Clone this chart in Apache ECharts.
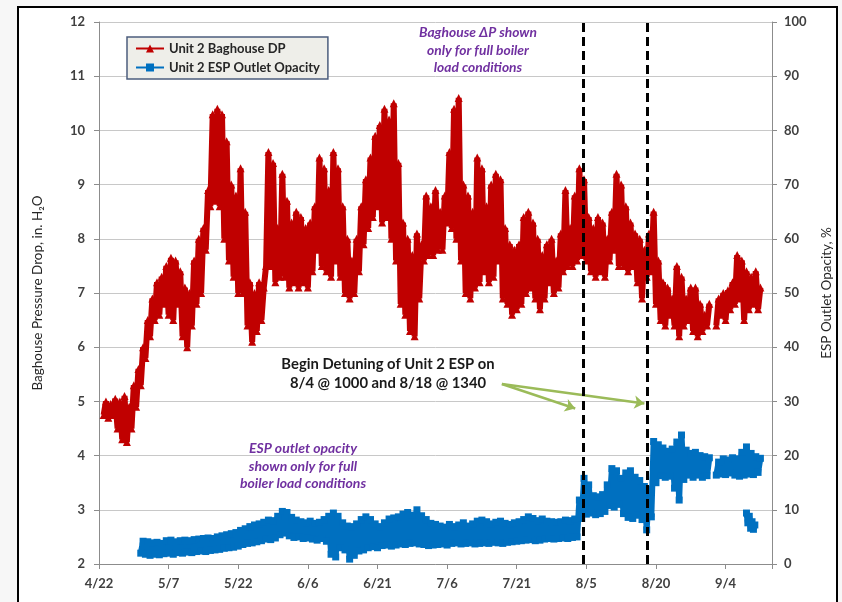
<!DOCTYPE html>
<html>
<head>
<meta charset="utf-8">
<script src="https://cdn.jsdelivr.net/npm/echarts@6/dist/echarts.min.js"></script>
<style>
  html, body { margin: 0; padding: 0; background: #f7f7f7; }
  #chart { width: 842px; height: 602px; }
</style>
</head>
<body>
<div id="chart"></div>
<script>
// x axis is days since 4/22, tick every 15 days
const xLabels = ['4/22', '5/7', '5/22', '6/6', '6/21', '7/6', '7/21', '8/5', '8/20', '9/4'];

// Unit 2 baghouse DP, in. H2O - daily low / high, starting day 1
const dpStart = 1;
const dpLow = [
  4.75, 4.7, 4.75, 4.5, 4.3, 4.25, 4.5, 4.9, 5.3, 5.8,
  6.2, 6.5, 6.6, 6.8, 6.6, 6.5, 6.8, 6.2, 6.0, 6.4,
  6.8, 7.0, 7.8, 8.6, 8.7, 8.6, 8.0, 7.6, 7.3, 7.0,
  7.0, 6.4, 6.1, 6.3, 6.5, 7.5, 7.5, 7.2, 7.3, 7.3,
  7.1, 7.2, 7.1, 7.2, 7.1, 7.4, 7.8, 7.5, 7.4, 7.3,
  7.6, 7.3, 7.0, 6.9, 7.0, 7.4, 7.9, 8.2, 8.4, 8.6,
  8.3, 8.4, 8.0, 7.6, 6.8, 6.6, 6.3, 6.2, 6.9, 7.6,
  7.7, 7.7, 7.8, 7.8, 8.3, 8.2, 8.0, 7.6, 7.0, 6.9,
  7.1, 7.2, 7.4, 7.2, 7.3, 7.6, 6.9, 6.8, 6.6, 6.7,
  6.8, 7.0, 7.1, 6.9, 6.7, 6.9, 7.2, 7.0, 7.1, 7.4,
  7.5, 7.5, 7.6, 7.7, 7.6, 7.4, 7.3, 7.4, 7.3, 7.6,
  7.8, 7.5, 7.5, 7.4, 7.5, 7.2, 6.9, 7.3, 7.4, 6.8,
  6.5, 6.4, 6.6, 6.4, 6.2, 6.4, 6.5, 6.3, 6.2, 6.3,
  6.4, null, 6.4, 6.6, 6.5, 6.7, 6.8, 6.9, 6.5, 6.7, 6.8, 6.7
];
const dpHigh = [
  5.0, 4.95, 5.05, 5.0, 5.1, 4.9, 5.3, 5.6, 6.0, 6.5,
  6.9, 7.2, 7.3, 7.5, 7.65, 7.6, 7.4, 7.1, 7.0, 7.6,
  8.0, 8.2, 8.9, 10.3, 10.4, 10.3, 9.8, 9.0, 8.8, 9.3,
  8.5, 7.2, 7.0, 7.2, 7.1, 9.6, 9.4, 8.2, 9.2, 8.7,
  8.3, 8.5, 8.4, 8.2, 8.3, 8.6, 9.5, 9.3, 8.9, 9.6,
  9.3, 8.6, 8.0, 7.6, 8.0, 8.6, 9.1, 9.5, 9.9, 10.1,
  10.4, 10.2, 10.5, 9.4, 8.3, 8.0, 7.7, 8.1, 7.9, 8.8,
  8.6, 8.9, 8.5, 8.8, 9.6, 10.4, 10.6, 9.0, 8.8, 8.5,
  9.5, 9.3, 8.6, 9.0, 9.2, 9.1, 8.2, 7.9, 7.8, 7.9,
  8.4, 8.5, 8.3, 8.0, 7.7, 7.9, 8.0, 7.6, 8.1, 8.9,
  8.2, 8.8, 9.3, 9.1, 8.4, 8.2, 8.4, 8.3, 8.0, 8.5,
  9.2, 9.0, 8.6, 8.3, 8.1, 8.0, 7.8, 8.1, 8.5, 7.6,
  7.2, 7.1, 6.9, 7.5, 7.3, 6.9, 7.1, 7.1, 6.8, 6.6,
  6.8, null, 6.9, 7.0, 7.05, 7.2, 7.7, 7.6, 7.4, 7.3, 7.4, 7.1
];

// Unit 2 ESP outlet opacity, % - daily low / high, starting day 9
const opStart = 9;
const opLow = [
  2.0, 1.8, 1.6, 1.8, 1.7, 1.9, 2.0, 1.8, 2.1, 2.0,
  2.2, 2.1, 2.3, 2.4, 2.3, 2.5, 2.6, 2.7, 2.9, 3.0,
  3.1, 3.3, 3.6, 3.8, 3.9, 4.1, 4.3, 4.6, 4.5, 4.8,
  5.4, 5.7, 5.2, 4.9, 5.0, 4.7, 4.8, 4.6, 4.4, 4.7,
  4.2, 1.8, 1.3, 3.0, 2.6, 0.9, 1.6, 2.4, 2.6, 3.0,
  3.2, 3.0, 3.4, 3.5, 3.3, 3.5, 3.7, 3.6, 3.8, 3.9,
  3.7, 3.6, 3.4, 3.5, 3.6, 3.7, 3.5, 3.8, 3.9, 3.7,
  3.8, 3.9, 3.7, 3.8, 3.9, 3.8, 4.0, 3.9, 3.8, 4.0,
  4.1, 4.2, 4.3, 4.4, 4.5, 4.3, 4.4, 4.6, 4.7, 4.6,
  4.7, 4.8, 4.7, 4.9, 5.0, 8.4, 9.2, 9.4, 9.1, 9.3,
  9.7, 10.8, 10.5, 11.0, 9.3, 8.6, 8.4, 9.0, 8.2, 6.3,
  8.7, 15.0, 16.3, 16.0, 16.2, 14.0, 11.8, 15.6, 16.4, 16.0,
  16.4, 16.0, 16.3, null, 16.4, 16.6, 16.5, 16.8, 16.4, 16.2, 16.4, 16.6, 16.5, 16.9
];
const opHigh = [
  4.2, 4.1, 3.9, 4.0, 3.8, 4.3, 4.4, 4.1, 4.3, 4.4,
  4.3, 4.5, 4.6, 4.7, 4.8, 4.7, 5.0, 5.2, 5.4, 5.6,
  5.8, 6.2, 6.5, 6.9, 7.2, 7.4, 7.7, 8.1, 8.0, 8.8,
  9.7, 9.5, 8.6, 8.1, 7.8, 7.6, 7.9, 7.5, 7.7, 8.2,
  8.8, 9.4, 8.8, 7.6, 7.0, 6.9, 7.4, 8.2, 8.7, 8.2,
  7.4, 6.9, 7.6, 8.3, 8.5, 8.7, 9.2, 9.5, 9.0, 10.0,
  8.9, 8.2, 7.5, 7.3, 7.0, 6.8, 7.3, 6.9, 7.2, 7.6,
  7.0, 7.4, 7.9, 8.1, 7.8, 7.4, 7.7, 7.9, 7.5, 7.3,
  7.6, 7.8, 8.2, 8.7, 8.4, 8.0, 8.3, 7.9, 7.8, 7.7,
  7.8, 8.1, 8.0, 8.3, 11.8, 15.8, 14.6, 12.6, 12.4, 12.8,
  14.6, 17.6, 17.2, 15.8, 16.8, 17.2, 16.0, 15.4, 14.3, 13.8,
  22.6, 22.0, 21.4, 20.8, 21.2, 22.5, 23.8, 21.0, 20.4, 20.6,
  20.0, 19.8, 19.6, null, 18.8, 19.4, 19.2, 19.6, 19.4, 20.6, 21.6, 20.4, 19.8, 19.5
];
// small low cluster of opacity readings near 9/10
const opLowCluster = [[139.5, 9.4], [139.8, 7.6], [140.1, 8.8], [140.4, 6.6], [140.7, 7.8], [141.0, 6.4], [141.3, 7.2]];

// detuning start (8/4 @ 1000, 8/18 @ 1340) in days since 4/22
const detuneDays = [104.3, 118.1];

function band(start, lows, highs) {
  const pts = [];
  lows.forEach((lo, i) => {
    const d = start + i;
    if (lo == null) { pts.push([d, '-']); return; }
    pts.push([d, lo]);
    pts.push([d + 0.5, highs[i]]);
  });
  return pts;
}

const RED = '#c00000';
const BLUE = '#0070c0';
const FONT = 'Lato, "Open Sans", sans-serif';

const myChart = echarts.init(document.getElementById('chart'));
const option = {
  animation: false,
  backgroundColor: '#f7f7f7',
  textStyle: { fontFamily: FONT },
  grid: { left: 99, right: 70, top: 22, bottom: 38 },
  legend: {
    left: 127,
    top: 37,
    orient: 'vertical',
    padding: [5, 8, 5, 8],
    itemGap: 6,
    itemWidth: 28,
    itemHeight: 10,
    backgroundColor: '#eeeee9',
    borderColor: '#4c5d7d',
    borderWidth: 1.5,
    textStyle: { fontFamily: FONT, fontWeight: 'bold', fontSize: 13, color: '#262626' },
    data: ['Unit 2 Baghouse DP', 'Unit 2 ESP Outlet Opacity']
  },
  xAxis: {
    type: 'value',
    min: 0,
    max: 145,
    interval: 15,
    axisLine: { show: true, lineStyle: { color: '#8c8c8c', width: 1 } },
    axisTick: { show: true, length: 5, lineStyle: { color: '#8c8c8c' } },
    splitLine: { show: false },
    axisLabel: {
      margin: 13,
      fontFamily: FONT,
      fontWeight: 'bold',
      fontSize: 13,
      color: '#404040',
      formatter: function (v) {
        const i = v / 15;
        return Number.isInteger(i) && i < xLabels.length ? xLabels[i] : '';
      }
    }
  },
  yAxis: [
    {
      type: 'value',
      min: 2,
      max: 12,
      interval: 1,
      name: 'Baghouse Pressure Drop, in. H\u2082O',
      nameLocation: 'middle',
      nameGap: 54,
      nameTextStyle: { fontFamily: FONT, fontSize: 13.5, color: '#262626' },
      axisLine: { show: true, lineStyle: { color: '#8c8c8c' } },
      axisTick: { show: true, length: 5, lineStyle: { color: '#8c8c8c' } },
      splitLine: { show: true, lineStyle: { color: '#c8c8c8', width: 1 } },
      axisLabel: { margin: 14, fontFamily: FONT, fontWeight: 'bold', fontSize: 13, color: '#404040' }
    },
    {
      type: 'value',
      min: 0,
      max: 100,
      interval: 10,
      name: 'ESP Outlet Opacity, %',
      nameLocation: 'middle',
      nameGap: 48,
      nameTextStyle: { fontFamily: FONT, fontSize: 13.5, color: '#262626' },
      axisLine: { show: true, lineStyle: { color: '#8c8c8c' } },
      axisTick: { show: true, length: 5, lineStyle: { color: '#8c8c8c' } },
      splitLine: { show: false },
      axisLabel: { margin: 12, fontFamily: FONT, fontWeight: 'bold', fontSize: 13, color: '#404040' }
    }
  ],
  series: [
    {
      name: 'Unit 2 Baghouse DP',
      type: 'line',
      yAxisIndex: 0,
      data: band(dpStart, dpLow, dpHigh),
      symbol: 'triangle',
      symbolSize: 8,
      showAllSymbol: true,
      lineStyle: { color: RED, width: 6 },
      itemStyle: { color: RED },
      z: 3,
      markLine: {
        silent: true,
        symbol: ['none', 'arrow'],
        symbolSize: 10,
        label: { show: false },
        lineStyle: { color: '#9bbb59', width: 2.5, type: 'solid' },
        data: [
          [{ coord: [86.8, 5.32] }, { coord: [102.6, 4.87] }],
          [{ coord: [86.8, 5.32] }, { coord: [117.5, 4.96] }]
        ]
      }
    },
    {
      name: 'Unit 2 ESP Outlet Opacity',
      type: 'line',
      yAxisIndex: 1,
      data: band(opStart, opLow, opHigh),
      symbol: 'rect',
      symbolSize: 7,
      showAllSymbol: true,
      lineStyle: { color: BLUE, width: 6 },
      itemStyle: { color: BLUE },
      z: 3
    },
    {
      name: 'Unit 2 ESP Outlet Opacity',
      type: 'line',
      yAxisIndex: 1,
      data: opLowCluster,
      symbol: 'rect',
      symbolSize: 7,
      showAllSymbol: true,
      lineStyle: { color: BLUE, width: 6 },
      itemStyle: { color: BLUE },
      z: 3,
      markLine: {
        silent: true,
        symbol: 'none',
        label: { show: false },
        lineStyle: { color: '#000', width: 3, type: [9, 5] },
        data: detuneDays.map(d => ({ xAxis: d }))
      }
    }
  ],
  graphic: [
    {
      type: 'rect',
      z: -10,
      silent: true,
      shape: { x: 18, y: 7, width: 819, height: 620 },
      style: { fill: '#ffffff', stroke: '#000000', lineWidth: 2 }
    },
    {
      type: 'text',
      x: 478, y: 24,
      silent: true,
      style: {
        text: 'Baghouse \u0394P shown\nonly for full boiler\nload conditions',
        textAlign: 'center',
        textVerticalAlign: 'top',
        font: 'italic bold 13.8px ' + FONT,
        lineHeight: 17.5,
        fill: '#7030a0'
      }
    },
    {
      type: 'text',
      x: 303, y: 440,
      silent: true,
      style: {
        text: 'ESP outlet opacity\nshown only for full\nboiler load conditions',
        textAlign: 'center',
        textVerticalAlign: 'top',
        font: 'italic bold 14px ' + FONT,
        lineHeight: 17.5,
        fill: '#7030a0'
      }
    },
    {
      type: 'text',
      x: 388, y: 355,
      silent: true,
      style: {
        text: 'Begin Detuning of Unit 2 ESP on\n8/4 @ 1000 and 8/18 @ 1340',
        textAlign: 'center',
        textVerticalAlign: 'top',
        font: 'bold 14.8px ' + FONT,
        lineHeight: 19,
        fill: '#1a1a1a'
      }
    }
  ]
};
option && myChart.setOption(option);
</script>
</body>
</html>
